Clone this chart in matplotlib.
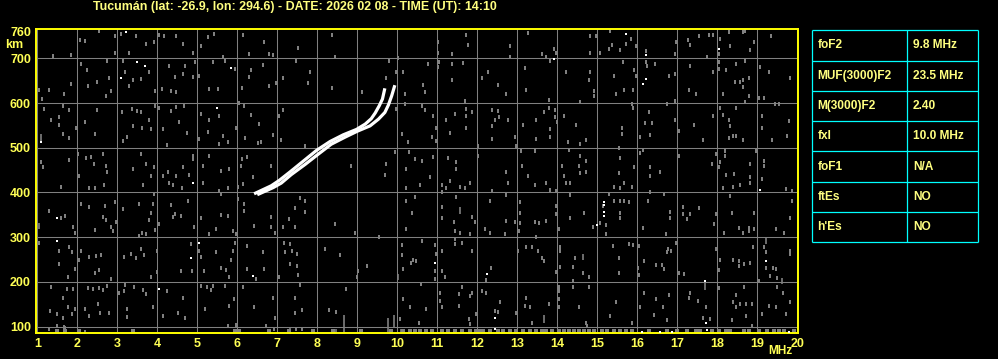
import numpy as np
import matplotlib.pyplot as plt

# ionogram trace, O and X branches (MHz, km)
o_freq = [6.42, 6.85, 7.05, 7.32, 7.65, 7.98, 8.32, 8.65, 8.98, 9.2, 9.35, 9.45, 9.55, 9.63, 9.69]
o_height = [397, 415, 427, 446, 470, 494, 514, 529, 541, 553, 565, 578, 594, 609, 633]
x_freq = [6.5, 6.9, 7.1, 7.35, 7.7, 8.0, 8.35, 8.7, 9.0, 9.32, 9.53, 9.69, 9.78, 9.86, 9.94]
x_height = [395, 411, 421, 440, 463, 484, 508, 524, 537, 549, 564, 579, 596, 616, 640]

# background speckle (MHz, km)
noise = [
    (1.39, 706), (1.85, 708), (2.08, 741), (2.2, 739), (2.55, 762), (2.95, 749), (2.95, 712), (3.1, 754),
    (3.29, 713), (3.47, 749), (3.72, 732), (3.93, 736), (4.05, 753), (4.18, 751), (4.47, 751), (4.64, 732),
    (4.89, 712), (5.1, 728), (5.26, 747), (5.43, 754), (5.64, 702), (6.14, 752), (6.3, 710), (6.68, 736),
    (6.8, 710), (6.89, 708), (2.1, 687), (2.24, 673), (2.74, 693), (2.8, 656), (3.15, 693), (3.2, 669),
    (3.3, 639), (3.39, 652), (3.6, 654), (3.79, 669), (3.94, 628), (4.12, 632), (4.3, 682), (4.35, 628),
    (4.45, 658), (4.47, 624), (4.64, 665), (4.7, 684), (4.89, 658), (4.94, 691), (5.05, 660), (5.29, 632),
    (5.39, 691), (5.51, 632), (5.69, 693), (5.95, 676), (6.11, 633), (6.29, 659), (6.35, 674), (6.64, 685),
    (6.79, 639), (6.97, 646), (7.14, 656), (1.05, 629), (1.3, 629), (1.68, 620), (1.85, 643), (2.26, 639),
    (2.49, 648), (2.72, 616), (2.85, 628), (1.12, 609), (1.18, 587), (1.35, 563), (1.54, 568), (1.64, 594),
    (1.79, 585), (1.55, 551), (1.97, 544), (1.64, 531), (1.8, 521), (2.2, 558), (2.45, 531), (2.5, 585),
    (3.12, 581), (3.14, 516), (3.24, 523), (3.37, 587), (3.49, 583), (3.6, 581), (3.39, 548), (3.62, 545),
    (3.79, 563), (3.85, 541), (3.95, 594), (4.05, 589), (4.14, 541), (4.25, 506), (4.35, 583), (4.47, 591),
    (4.55, 557), (4.67, 594), (4.74, 533), (5.05, 520), (5.1, 575), (5.26, 536), (5.3, 563), (5.54, 570),
    (5.64, 527), (5.54, 508), (5.76, 512), (5.97, 544), (6.04, 600), (6.18, 594), (6.35, 573), (6.2, 521),
    (6.51, 510), (6.6, 512), (6.54, 553), (6.89, 528), (7.1, 518), (7.14, 585), (7.05, 572), (1.14, 456),
    (1.1, 469), (1.79, 473), (2.01, 485), (2.22, 477), (2.35, 479), (2.43, 464), (2.64, 485), (2.74, 445),
    (2.72, 460), (2.05, 437), (3.39, 452), (3.6, 485), (3.72, 464), (3.93, 456), (3.85, 437), (4.14, 437),
    (4.26, 446), (4.47, 437), (4.64, 456), (4.89, 475), (4.9, 482), (4.8, 438), (5.3, 482), (5.14, 460),
    (5.6, 449), (5.8, 452), (6.12, 475), (6.24, 479), (6.09, 460), (6.39, 434), (6.85, 460),
    (7.53, 724), (8.38, 752), (8.44, 702), (7.48, 695), (7.82, 669), (7.78, 646), (8.38, 633), (9.13, 624),
    (9.79, 695), (10.03, 700), (10.15, 669), (9.98, 669), (9.73, 655), (10.19, 620), (10.19, 598), (9.98, 587),
    (10.65, 640), (10.69, 624), (10.61, 594), (10.69, 585), (10.78, 687), (11.03, 736), (11.03, 713), (11.04, 691),
    (11.03, 680), (11.38, 709), (11.38, 687), (11.65, 689), (11.78, 730), (11.73, 752), (11.38, 652), (12.13, 655),
    (12.28, 670), (12.52, 640), (12.82, 728), (12.83, 702), (13.28, 756), (13.19, 678), (13.23, 630), (13.61, 709),
    (12.73, 620), (11.69, 605), (11.73, 587), (11.88, 581), (11.72, 570), (11.23, 563), (11.44, 575), (11.33, 533),
    (11.73, 545), (12.36, 548), (12.38, 585), (12.52, 583), (12.55, 568), (12.44, 563), (12.78, 563), (12.38, 520),
    (12.94, 524), (13.15, 552), (13.48, 563), (13.48, 520), (10.98, 545), (10.98, 515), (10.86, 523), (10.9, 570),
    (10.28, 512), (10.3, 490), (10.11, 531), (9.94, 490), (7.69, 505), (8.84, 460), (9.73, 464), (9.69, 439),
    (10.23, 452), (10.44, 475), (10.61, 471), (10.9, 479), (11.27, 477), (11.48, 468), (10.82, 434), (12.03, 482),
    (12.03, 505), (12.73, 446), (12.98, 505), (13.09, 492), (13.13, 460), (13.28, 436), (13.44, 492), (11.48, 452),
    (14.83, 749), (14.98, 749), (15.33, 762), (15.73, 732), (15.85, 743), (15.96, 727), (15.38, 730), (15.29, 721),
    (15.08, 712), (14.83, 712), (15.58, 718), (13.93, 721), (13.96, 712), (13.73, 702), (13.83, 693), (16.23, 716),
    (16.23, 691), (16.25, 684), (16.44, 687), (16.94, 709), (16.98, 736), (17.27, 741), (17.33, 730), (17.54, 749),
    (17.79, 752), (17.89, 752), (18.08, 743), (18.04, 709), (18.29, 759), (18.33, 727), (18.65, 759), (18.69, 762),
    (18.93, 736), (18.83, 718), (19.35, 751), (17.75, 702), (18.04, 691), (18.04, 676), (18.23, 674), (18.48, 687),
    (18.69, 693), (19.08, 680), (19.29, 669), (19.83, 655), (17.33, 684), (17.9, 670), (14.23, 670), (14.79, 652),
    (14.83, 670), (14.93, 628), (14.93, 616), (15.43, 661), (15.65, 691), (15.68, 629), (15.48, 620), (15.9, 629),
    (15.93, 674), (15.98, 661), (16.8, 661), (16.94, 665), (17.29, 629), (17.48, 620), (18.15, 620), (18.44, 648),
    (18.58, 648), (18.64, 652), (18.79, 656), (18.64, 636), (18.79, 616), (18.69, 603), (19.04, 611), (19.18, 611),
    (14.58, 603), (13.79, 607), (16.94, 605), (13.79, 590), (13.94, 585), (13.68, 579), (13.94, 568), (14.0, 558),
    (13.83, 542), (13.83, 523), (14.18, 572), (14.48, 550), (14.27, 514), (14.58, 508), (14.73, 518), (15.63, 545),
    (15.63, 531), (15.9, 589), (15.88, 598), (16.29, 581), (16.19, 555), (16.38, 555), (16.33, 528), (16.08, 523),
    (16.75, 598), (16.94, 563), (17.04, 537), (17.43, 550), (17.65, 518), (17.9, 570), (18.15, 573), (18.08, 588),
    (18.48, 590), (18.29, 563), (18.33, 548), (18.4, 527), (18.48, 527), (18.29, 521), (18.65, 518), (19.13, 572),
    (19.13, 545), (19.38, 518), (19.79, 560), (19.75, 527), (19.45, 598), (19.55, 598), (14.29, 496), (14.13, 460),
    (14.17, 437), (14.54, 460), (14.58, 482), (14.73, 471), (14.73, 446), (14.58, 443), (15.54, 500), (15.57, 477),
    (15.54, 443), (15.93, 456), (16.08, 488), (16.15, 496), (16.33, 456), (16.58, 446), (16.33, 437), (17.04, 482),
    (17.88, 464), (17.96, 485), (18.04, 456), (18.08, 468), (18.19, 492), (18.19, 482), (18.23, 439), (18.43, 441),
    (18.82, 434), (18.83, 464), (18.98, 492), (19.18, 471), (19.18, 460), (19.13, 430),
    (1.6, 413), (2.3, 410), (2.45, 410), (2.68, 417), (3.64, 417), (3.93, 396), (4.3, 422), (4.39, 417),
    (4.62, 411), (5.14, 422), (5.54, 404), (5.6, 396), (5.76, 410), (6.01, 413), (6.14, 419), (6.01, 385),
    (6.18, 374), (2.1, 375), (2.29, 368), (2.7, 369), (2.95, 378), (3.14, 363), (3.55, 375), (3.89, 374),
    (4.35, 372), (4.45, 351), (4.6, 348), (4.39, 345), (4.76, 380), (1.3, 359), (1.6, 344), (1.7, 348),
    (1.89, 323), (1.95, 310), (2.45, 316), (2.65, 346), (2.72, 338), (2.85, 322), (2.9, 313), (2.97, 333),
    (3.8, 338), (3.84, 355), (3.95, 316), (4.04, 329), (3.62, 310), (3.55, 303), (3.72, 307), (4.93, 322),
    (5.1, 344), (5.29, 307), (5.47, 318), (5.6, 350), (5.76, 348), (5.89, 314), (5.97, 307), (6.18, 359),
    (6.43, 325), (6.85, 346), (6.85, 322), (6.95, 310), (7.14, 323), (7.29, 340), (1.04, 286), (1.55, 268),
    (1.8, 277), (1.87, 266), (2.04, 249), (1.54, 240), (1.76, 210), (1.95, 228), (2.1, 269), (2.3, 256),
    (2.47, 258), (2.6, 260), (2.54, 226), (2.45, 221), (2.85, 206), (3.18, 256), (3.35, 263), (3.47, 253),
    (3.6, 273), (3.68, 260), (3.99, 269), (3.99, 223), (3.84, 210), (4.6, 225), (4.85, 284), (4.87, 225),
    (5.04, 268), (5.1, 256), (5.18, 225), (5.47, 266), (5.6, 231), (5.72, 226), (5.8, 210), (5.84, 249),
    (5.95, 288), (5.89, 269), (6.24, 281), (6.24, 228), (6.47, 206), (6.68, 228), (6.64, 266), (7.04, 211),
    (7.18, 288), (7.2, 266), (1.35, 189), (1.74, 184), (1.89, 184), (1.64, 165), (1.32, 135), (1.49, 128),
    (1.64, 120), (1.76, 143), (1.87, 128), (1.95, 139), (1.68, 98), (1.49, 101), (1.3, 94), (2.2, 139),
    (2.26, 187), (2.39, 185), (2.54, 187), (2.64, 181), (2.74, 191), (2.3, 124), (2.51, 150), (2.57, 131),
    (2.79, 131), (3.05, 176), (3.2, 193), (3.18, 180), (3.24, 139), (3.24, 121), (3.43, 189), (3.64, 181),
    (3.72, 172), (3.89, 144), (4.24, 180), (4.14, 124), (4.51, 131), (4.64, 165), (4.7, 120), (5.1, 191),
    (5.24, 189), (5.35, 181), (5.39, 191), (5.7, 191), (5.2, 139), (5.79, 146), (5.93, 161), (5.76, 101),
    (5.97, 103), (6.14, 189), (6.43, 143), (6.89, 165), (6.95, 120), (6.72, 101), (6.93, 94), (2.2, 89),
    (1.7, 96),
    (10.23, 411), (10.58, 417), (11.13, 417), (11.23, 410), (11.33, 425), (11.58, 413), (11.69, 410), (11.83, 422),
    (12.38, 404), (12.78, 422), (13.44, 417), (11.13, 402), (7.58, 387), (7.69, 381), (7.44, 365), (7.69, 357),
    (7.44, 323), (8.44, 329), (8.94, 310), (9.55, 301), (10.44, 390), (10.23, 381), (10.38, 355), (10.23, 319),
    (11.11, 368), (11.48, 390), (11.13, 342), (11.43, 333), (11.44, 314), (11.58, 310), (11.88, 345), (11.94, 333),
    (11.83, 307), (12.19, 319), (12.33, 381), (12.33, 310), (12.73, 395), (12.73, 337), (12.69, 307), (12.94, 333),
    (13.08, 378), (13.08, 355), (13.08, 331), (13.05, 314), (13.44, 333), (13.55, 331), (13.48, 301), (7.33, 284),
    (7.38, 269), (7.5, 262), (7.33, 241), (7.5, 236), (7.53, 216), (8.19, 273), (8.58, 260), (9.02, 225),
    (9.25, 236), (9.0, 210), (10.13, 282), (10.13, 260), (10.34, 243), (10.4, 250), (10.48, 246), (10.63, 292),
    (10.15, 228), (10.94, 282), (10.98, 263), (10.94, 225), (10.94, 206), (11.13, 269), (11.13, 225), (11.19, 210),
    (11.44, 296), (11.44, 284), (11.63, 288), (11.88, 269), (12.34, 231), (12.23, 204), (13.03, 269), (13.23, 278),
    (13.36, 278), (13.53, 269), (13.63, 254), (7.58, 193), (7.44, 163), (7.61, 137), (7.44, 131), (8.73, 184),
    (8.3, 137), (8.48, 133), (10.08, 117), (10.15, 161), (10.33, 143), (10.59, 195), (10.73, 140), (10.55, 109),
    (11.07, 176), (11.08, 157), (11.11, 143), (11.55, 172), (11.63, 189), (11.55, 146), (11.82, 169), (11.88, 176),
    (11.8, 117), (11.82, 105), (11.97, 128), (12.13, 180), (12.23, 176), (12.44, 135), (12.53, 133), (12.58, 154),
    (12.98, 131), (13.23, 165), (13.19, 146), (13.33, 143), (13.38, 109), (7.61, 94), (7.47, 94),
    (13.73, 422), (14.21, 422), (14.33, 422), (13.83, 405), (13.98, 404), (14.33, 395), (14.67, 355), (13.73, 337),
    (14.04, 318), (13.98, 370), (13.98, 351), (14.33, 343), (15.15, 370), (15.08, 331), (15.23, 328), (14.9, 323),
    (15.23, 307), (15.43, 381), (15.58, 381), (15.67, 381), (15.79, 378), (15.58, 355), (15.58, 343), (15.42, 413),
    (15.58, 410), (15.88, 413), (15.68, 422), (15.29, 396), (16.33, 400), (16.27, 381), (16.68, 396), (16.14, 320),
    (16.73, 307), (16.83, 357), (16.83, 343), (17.15, 368), (17.15, 351), (17.33, 351), (17.25, 340), (17.54, 365),
    (17.98, 351), (17.93, 329), (18.18, 310), (18.38, 355), (18.54, 320), (18.65, 310), (18.79, 321), (18.93, 318),
    (18.79, 313), (18.93, 355), (19.48, 318), (19.68, 310), (19.83, 343), (19.88, 381), (19.73, 407), (19.88, 404),
    (18.33, 393), (18.4, 413), (18.58, 417), (18.83, 422), (18.15, 410), (14.08, 277), (14.08, 269), (13.68, 247),
    (14.08, 234), (13.96, 223), (14.4, 234), (14.65, 219), (14.79, 211), (14.44, 253), (15.4, 281), (15.54, 253),
    (15.54, 221), (15.79, 284), (15.9, 283), (16.04, 281), (16.03, 231), (16.04, 216), (16.18, 247), (16.48, 238),
    (16.63, 238), (16.68, 228), (16.77, 273), (16.85, 269), (16.75, 266), (16.98, 288), (17.04, 221), (17.18, 218),
    (17.98, 273), (18.04, 226), (18.08, 250), (18.4, 250), (18.54, 246), (18.54, 235), (18.68, 239), (18.83, 243),
    (18.9, 278), (19.18, 277), (19.23, 266), (19.23, 231), (19.4, 231), (19.48, 228), (19.33, 213), (19.5, 208),
    (19.83, 269), (19.83, 262), (14.04, 189), (14.04, 180), (14.04, 161), (13.79, 151), (14.04, 143), (14.4, 202),
    (14.4, 189), (14.79, 189), (14.54, 143), (14.73, 109), (14.75, 101), (15.33, 124), (15.48, 154), (15.88, 107),
    (16.17, 176), (16.08, 143), (16.48, 161), (16.65, 144), (16.79, 170), (16.42, 126), (16.75, 114), (17.32, 176),
    (17.29, 163), (17.52, 157), (17.73, 143), (17.83, 117), (17.65, 120), (18.04, 186), (18.4, 154), (18.46, 144),
    (18.48, 170), (18.58, 151), (18.73, 151), (18.88, 151), (18.73, 124), (18.38, 114), (18.88, 101), (19.04, 202),
    (19.13, 129), (19.29, 146), (19.46, 143), (19.5, 189), (19.65, 176), (19.73, 129), (19.83, 154), (18.67, 189),
]

# brighter isolated returns
bright = [
    (3.23, 760), (3.5, 691), (3.69, 684), (3.1, 656), (5.85, 678), (5.49, 589), (1.1, 514), (1.49, 342),
    (1.49, 292), (4.89, 422), (4.85, 254), (5.04, 288), (6.39, 213), (4.04, 184), (10.94, 243), (12.25, 217),
    (12.44, 120), (15.73, 754), (13.93, 699), (16.23, 708), (18.04, 721), (16.23, 654), (16.14, 642), (15.0, 328),
    (19.08, 405), (19.23, 247), (17.69, 202), (17.73, 109), (12.44, 95), (16.13, 88), (16.58, 88), (16.88, 88),
    (17.75, 93), (19.79, 88), (15.18, 378), (15.18, 372), (15.18, 356), (15.18, 347),
]

# short vertical streaks: frequency, low km, high km
streak_freq = [8.66, 8.48, 9.77, 9.93, 10.1, 13.68, 1.1, 1.04, 19.23, 19.63, 14.65, 11.58, 17.69, 10.03, 7.33]
streak_low = [85, 85, 87, 100, 85, 108, 515, 318, 285, 196, 250, 352, 182, 205, 90]
streak_high = [126, 95, 120, 126, 95, 125, 530, 332, 300, 208, 262, 368, 198, 218, 100]

# clutter along the bottom (near 90 km)
floor_freq = [1.5, 1.7, 2.05, 3.4, 5.95, 6.05, 6.8, 7.3, 7.9, 8.4, 9.1, 9.85,
              10.15, 10.32, 10.44, 10.57, 10.73, 10.86, 11.11, 11.28, 11.44, 11.61, 11.82, 11.98,
              12.07, 12.15, 12.32, 12.53, 12.65, 12.82, 12.98, 13.15, 13.32, 13.48, 13.61, 13.71,
              13.88, 14.04, 14.17, 14.29, 14.42, 14.54, 14.67, 14.79, 14.92, 15.13, 15.25, 15.42,
              15.58, 15.71, 15.88, 16.29, 16.75, 17.0, 17.25, 17.46, 17.58, 17.88, 18.04, 18.21,
              18.33, 18.67, 18.79, 19.04, 19.25, 19.42, 19.54, 19.67, 19.92]

freq_ticks = list(range(1, 21))
height_ticks = [100, 200, 300, 400, 500, 600, 700]
height_labels = [100, 200, 300, 400, 500, 600, 700, 760]

param_names = ['foF2', 'MUF(3000)F2', 'M(3000)F2', 'fxI', 'foF1', 'ftEs', "h'Es"]
param_values = ['9.8 MHz', '23.5 MHz', '2.40', '10.0 MHz', 'N/A', 'NO', 'NO']

title = 'Tucumán (lat: -26.9, lon: 294.6) - DATE: 2026 02 08 - TIME (UT): 14:10'

plt.rcParams['font.family'] = ['Liberation Sans', 'DejaVu Sans']
plt.rcParams['font.weight'] = 'bold'

W, H = 998, 359
yellow = '#ffff55'
pale = '#ffff80'
grey = '#808080'
# thin upright dash, like the speckle in the source image
dash = [(-0.25, -0.5), (0.25, -0.5), (0.25, 0.5), (-0.25, 0.5)]

fig = plt.figure(figsize=(W / 100, H / 100), dpi=100, facecolor='black')
ax = fig.add_axes([35.7 / W, (H - 333.3) / H, 762.3 / W, 304 / H])
ax.set_facecolor('black')
ax.set_xlim(0.96, 20.02)
ax.set_ylim(85, 765)

for f in freq_ticks:
    ax.axvline(f, color=grey, lw=0.75, zorder=1)
for h in height_ticks:
    ax.axhline(h, color=grey, lw=0.75, zorder=1)

nz = np.array(noise)
ax.plot(nz[:, 0], nz[:, 1], ls='none', marker=dash, color=grey, ms=2.6, mew=0,
        antialiased=False, zorder=2)
ax.vlines(streak_freq, streak_low, streak_high, color=grey, lw=1.2, zorder=2)
ax.plot(floor_freq, [91] * len(floor_freq), 's', color=grey, ms=3, mew=0, antialiased=False, zorder=2)
br = np.array(bright)
ax.plot(br[:, 0], br[:, 1], 's', color='white', ms=1.8, mew=0, antialiased=False, zorder=3)

ax.plot(o_freq, o_height, color='white', lw=2.3, solid_capstyle='butt', zorder=4)
ax.plot(x_freq, x_height, color='white', lw=2.3, solid_capstyle='butt', zorder=4)

ax.set_xticks(freq_ticks)
ax.set_yticks(height_labels)
ax.set_xticklabels([str(f) for f in freq_ticks])
ax.set_yticklabels([str(h) for h in height_labels])
ax.tick_params(length=0, colors=yellow, labelsize=9)
ax.tick_params(axis='x', pad=3.5)
ax.tick_params(axis='y', pad=3.4)
for s in ax.spines.values():
    s.set_color('#ffff00')
    s.set_linewidth(1.4)

fig.text(14 / W, 1 - 45 / H, 'km', color=yellow, fontsize=9, ha='center', va='center')
fig.text(780 / W, 1 - 351 / H, 'MHz', color=yellow, fontsize=8.6, ha='center', va='center')
fig.text(294.5 / W, 1 - 7 / H, title, color=pale, fontsize=8.9, ha='center', va='center')

# parameter table on the right
tab = fig.add_axes([812 / W, (H - 242.3) / H, 166 / W, 212 / H])
tab.set_xlim(0, 1)
tab.set_ylim(len(param_names), 0)
tab.axis('off')
tab.hlines(range(len(param_names) + 1), 0, 1, color='#00ffff', lw=0.9, clip_on=False)
tab.vlines([0, 0.574, 1], 0, len(param_names), color='#00ffff', lw=0.9, clip_on=False)
for i, (name, val) in enumerate(zip(param_names, param_values)):
    tab.text(0.032, i + 0.5, name, color=pale, fontsize=8.6, va='center', ha='left')
    tab.text(0.607, i + 0.5, val, color=pale, fontsize=8.6, va='center', ha='left')

fig.savefig('out.png', dpi=100, facecolor='black')
